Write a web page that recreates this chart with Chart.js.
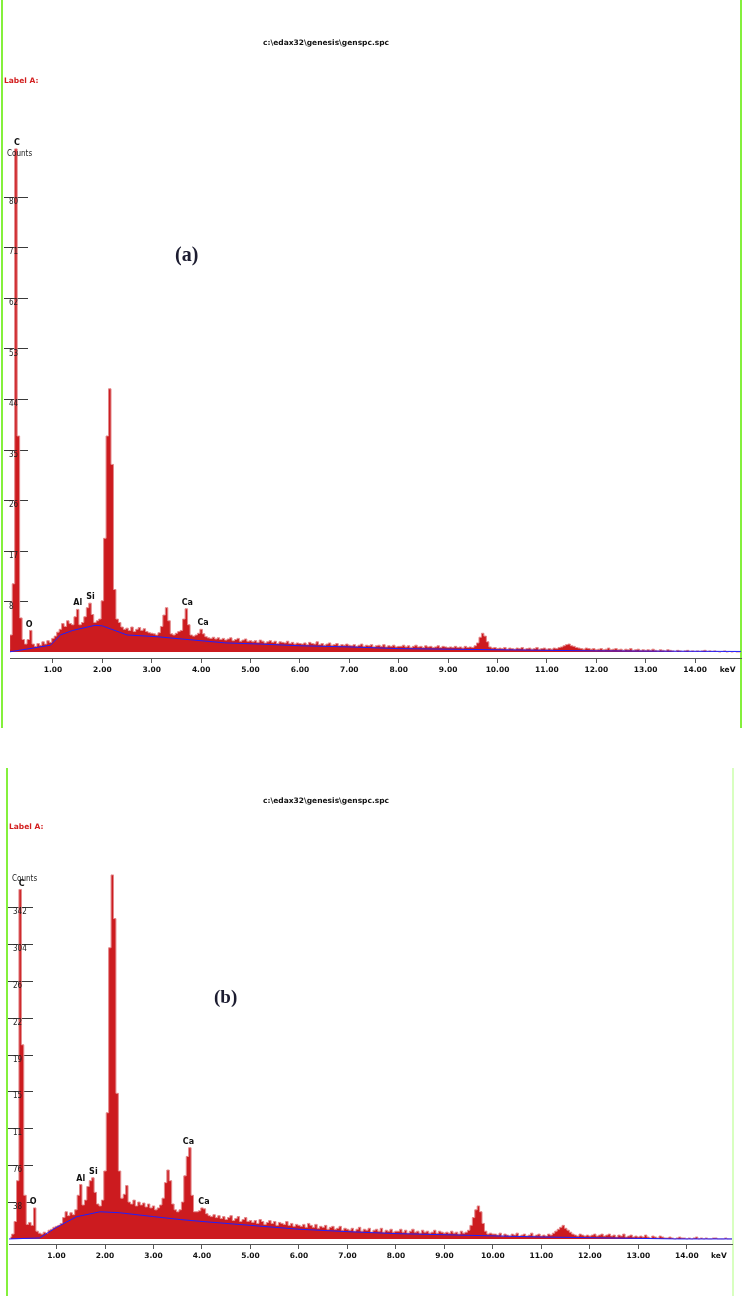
<!DOCTYPE html>
<html>
<head>
<meta charset="utf-8">
<script src="https://cdn.jsdelivr.net/npm/chart.js@4.4.1/dist/chart.umd.min.js"></script>
<style>
  body { margin: 0; background: #fff; width: 744px; height: 1296px; position: relative; overflow: hidden; }
  canvas { position: absolute; left: 0; }
  .vline { position: absolute; width: 2px; }
  .txt { position: absolute; white-space: nowrap; line-height: 1; }
  .path { font: bold 7.5px "DejaVu Sans", sans-serif; color: #111; }
  .lab { font: bold 7.5px "DejaVu Sans", sans-serif; color: #d21f1f; }
  .cnt { font: 8px "Liberation Sans Narrow", "DejaVu Sans Condensed", sans-serif; color: #222; }
  .tag { font: bold 20px "Liberation Serif", serif; color: #1c1c30; }
</style>
</head>
<body>
<div class="vline" style="left:1px;top:0;height:728px;background:#84f03c"></div>
<div class="vline" style="left:740px;top:0;height:728px;background:#84f03c"></div>
<div class="vline" style="left:6px;top:768px;height:528px;background:#84f03c"></div>
<div class="vline" style="left:732px;top:768px;height:528px;background:#d8ffc0"></div>

<canvas id="specA" width="744" height="700" style="top:0"></canvas>
<canvas id="specB" width="744" height="520" style="top:765px"></canvas>

<div class="txt path" style="left:263px;top:38px">c:\edax32\genesis\genspc.spc</div>
<div class="txt lab" style="left:4px;top:76px">Label A:</div>
<div class="txt cnt" style="left:7px;top:149px">Counts</div>
<div class="txt tag" style="left:175px;top:243px">(a)</div>

<div class="txt path" style="left:263px;top:796px">c:\edax32\genesis\genspc.spc</div>
<div class="txt lab" style="left:9px;top:822px">Label A:</div>
<div class="txt cnt" style="left:12px;top:874px">Counts</div>
<div class="txt tag" style="left:214px;top:986px;font-size:19px">(b)</div>

<script>
// channel grid of the spectra (keV)
const channelStart = 0.05;
const channelWidth = 0.05;

// spectrum (a), counts per channel, 0.05 .. 14.95 keV
const countsA = [
  0, 4, 30, 120, 885, 380, 60, 22, 14, 22, 38, 14, 10, 15, 12, 18, 14, 20, 17, 24,
  28, 35, 40, 50, 45, 55, 50, 48, 62, 75, 48, 52, 62, 78, 86, 66, 52, 55, 58, 90,
  200, 380, 463, 330, 110, 58, 52, 44, 40, 42, 38, 44, 36, 40, 43, 38, 41, 36, 34, 33,
  32, 30, 34, 45, 65, 78, 55, 32, 30, 33, 36, 38, 58, 76, 48, 30, 28, 30, 33, 40,
  32, 27, 25, 24, 26, 23, 25, 22, 24, 21, 23, 25, 20, 22, 24, 19, 21, 23, 19, 20,
  18, 20, 17, 21, 19, 16, 18, 20, 17, 19, 15, 18, 17, 16, 19, 15, 17, 14, 16, 15,
  14, 16, 13, 17, 15, 14, 18, 13, 15, 12, 14, 16, 12, 13, 15, 11, 13, 12, 14, 12,
  11, 13, 10, 12, 14, 10, 12, 11, 13, 9, 11, 12, 10, 13, 9, 11, 10, 12, 9, 10,
  10, 12, 9, 11, 8, 10, 12, 9, 10, 8, 11, 9, 10, 8, 9, 11, 8, 10, 9, 8,
  9, 8, 10, 8, 9, 7, 10, 8, 9, 8, 11, 16, 26, 33, 28, 18, 9, 7, 8, 6,
  7, 6, 8, 5, 7, 6, 5, 7, 6, 8, 5, 6, 7, 5, 6, 8, 5, 6, 7, 5,
  6, 5, 7, 6, 8, 9, 11, 13, 14, 11, 10, 8, 7, 6, 5, 7, 6, 5, 6, 4,
  5, 6, 4, 5, 7, 4, 5, 6, 4, 5, 3, 5, 4, 6, 3, 4, 5, 3, 4, 3,
  4, 3, 5, 3, 2, 4, 3, 2, 4, 3, 2, 1, 3, 2, 1, 2, 3, 1, 2, 1,
  2, 1, 2, 3, 1, 2, 1, 2, 1, 0, 1, 2, 0, 1, 0, 1, 0, 0, 0
];
// spectrum (b)
const countsB = [
  2, 5, 18, 60, 360, 200, 45, 15, 17, 14, 32, 8, 6, 5, 7, 6, 9, 10, 12, 13,
  14, 16, 22, 28, 24, 27, 25, 30, 45, 56, 35, 40, 54, 60, 63, 48, 36, 34, 40, 70,
  130, 300, 375, 330, 150, 70, 42, 46, 55, 38, 36, 40, 34, 38, 35, 37, 33, 36, 32, 34,
  30, 32, 35, 42, 58, 71, 60, 36, 30, 28, 30, 38, 65, 85, 94, 45, 28, 28, 29, 32,
  31, 26, 24, 23, 25, 22, 24, 21, 23, 20, 22, 24, 19, 21, 23, 18, 20, 22, 18, 19,
  17, 19, 16, 20, 18, 15, 17, 19, 16, 18, 14, 17, 16, 15, 18, 14, 16, 13, 15, 14,
  13, 15, 12, 16, 14, 12, 15, 11, 13, 12, 14, 10, 12, 13, 10, 11, 13, 9, 11, 10,
  9, 11, 8, 10, 12, 8, 10, 9, 11, 7, 9, 10, 8, 11, 7, 9, 8, 10, 7, 8,
  8, 10, 7, 9, 6, 8, 10, 7, 8, 6, 9, 7, 8, 6, 7, 9, 6, 8, 7, 6,
  7, 6, 8, 6, 7, 5, 8, 6, 7, 9, 14, 22, 30, 34, 28, 16, 8, 5, 6, 5,
  5, 4, 6, 3, 5, 4, 3, 5, 4, 6, 3, 4, 5, 3, 4, 6, 3, 4, 5, 3,
  4, 3, 5, 4, 6, 8, 10, 12, 14, 11, 9, 7, 5, 4, 3, 5, 4, 3, 4, 3,
  4, 5, 3, 4, 5, 3, 4, 5, 3, 4, 2, 4, 3, 5, 2, 3, 4, 2, 3, 2,
  3, 2, 4, 2, 1, 3, 2, 1, 3, 2, 1, 1, 2, 1, 0, 1, 2, 1, 1, 0,
  1, 0, 1, 2, 0, 1, 0, 1, 0, 0, 1, 1, 0, 0, 0, 1, 0, 0, 0
];

// fitted background (blue line)
const bgKeVA = [0.1, 0.6, 0.95, 1.15, 1.4, 1.85, 2.0, 2.5, 3.1, 3.85, 4.5, 5.2, 6.0, 7.0, 8.0, 10.0, 12.0, 14.93];
const bgCountsA = [0, 7, 12, 30, 38, 47, 46, 30, 27, 21, 16, 14, 11, 9, 6, 4, 2, 1];
const bgKeVB = [0.02, 0.65, 1.0, 1.42, 1.9, 2.3, 3.0, 3.55, 4.0, 5.0, 6.0, 7.0, 8.0, 11.0, 13.8, 14.93];
const bgCountsB = [0, 1, 12, 23, 28, 27, 23, 20, 18, 14, 10, 7.5, 5.5, 2, 0, 0];

// axes
const xTicks = [1, 2, 3, 4, 5, 6, 7, 8, 9, 10, 11, 12, 13, 14];
const unitTick = 14.66;
const yTicksA = [89, 178, 267, 356, 445, 534, 623, 712, 801];
const yLabelsA = ['8', '17', '26', '35', '44', '53', '62', '71', '80'];
const yTicksB = [38, 76, 114, 152, 190, 228, 266, 304, 342];
const yLabelsB = ['38', '76', '11', '15', '19', '22', '26', '304', '342'];

// peak identifications
const peakNamesA = ['C', 'O', 'Al', 'Si', 'Ca', 'Ca'];
const peakKeVA = [0.27, 0.52, 1.5, 1.76, 3.72, 4.04];
const peakNamesB = ['C', 'O', 'Al', 'Si', 'Ca', 'Ca'];
const peakKeVB = [0.28, 0.52, 1.5, 1.76, 3.72, 4.04];

const tickFont = { family: 'Liberation Sans Narrow, DejaVu Sans Condensed, sans-serif', size: 8 };

const edaxDeco = {
  id: 'edaxDeco',
  beforeDatasetsDraw(chart, args, opts) {
    const { ctx, chartArea, scales: { y } } = chart;
    ctx.save();
    ctx.strokeStyle = '#3a3a3a';
    ctx.lineWidth = 1;
    y.ticks.forEach((t) => {
      const py = Math.round(y.getPixelForValue(t.value)) + 0.5;
      ctx.beginPath();
      ctx.moveTo(chartArea.left + opts.tickFrom, py);
      ctx.lineTo(chartArea.left + opts.tickTo, py);
      ctx.stroke();
    });
    ctx.restore();
  },
  afterDatasetsDraw(chart, args, opts) {
    const { ctx, scales: { x, y } } = chart;
    const spec = chart.data.datasets[1].data;
    ctx.save();
    ctx.font = 'bold 8px "DejaVu Sans", sans-serif';
    ctx.fillStyle = '#111';
    ctx.textAlign = 'center';
    ctx.textBaseline = 'bottom';
    opts.names.forEach((name, i) => {
      const e = opts.keV[i];
      const top = Math.max(...spec.filter((p) => Math.abs(p.x - e) <= 0.06).map((p) => p.y));
      ctx.fillText(name, x.getPixelForValue(e), y.getPixelForValue(top) - 2);
    });
    ctx.restore();
  },
};

function drawSpectrum(id, s) {
  const spec = s.counts.map((c, i) => ({ x: +(channelStart + i * channelWidth).toFixed(2), y: c }));
  const bg = s.bgKeV.map((e, i) => ({ x: e, y: s.bgCounts[i] }));
  new Chart(document.getElementById(id), {
    type: 'line',
    data: {
      datasets: [
        { data: bg, borderColor: '#1f1fff', borderWidth: 1, pointRadius: 0, fill: false, tension: 0, order: 0 },
        {
          data: spec, stepped: 'middle', borderColor: '#e38a8c', borderWidth: 1,
          backgroundColor: '#cc1b1f', fill: 'origin', pointRadius: 0, order: 1,
        },
      ],
    },
    options: {
      responsive: false,
      animation: false,
      devicePixelRatio: 1,
      layout: { padding: { top: s.padTop, right: s.padRight, left: 0, bottom: 0 } },
      plugins: {
        legend: { display: false },
        tooltip: { enabled: false },
        edaxDeco: { tickFrom: s.tickFrom, tickTo: s.tickTo, names: s.peakNames, keV: s.peakKeV },
      },
      scales: {
        x: {
          type: 'linear',
          min: s.xMin,
          max: s.xMax,
          afterBuildTicks: (sc) => { sc.ticks = [...xTicks, unitTick].map((v) => ({ value: v })); },
          afterFit: (sc) => { sc.height = s.xAxisHeight; },
          ticks: {
            autoSkip: false,
            maxRotation: 0,
            padding: 3,
            color: '#111',
            font: { family: 'DejaVu Sans, sans-serif', size: 7.5, weight: 'bold' },
            callback: (v) => (v === unitTick ? 'keV' : v.toFixed(2)),
          },
          grid: {
            drawOnChartArea: false,
            tickLength: 5,
            color: (c) => (c.tick && c.tick.value === unitTick ? 'rgba(0,0,0,0)' : '#555'),
          },
          border: { color: '#555', width: 1 },
        },
        y: {
          min: s.yMin,
          max: s.yMax,
          afterBuildTicks: (sc) => { sc.ticks = s.yTicks.map((v) => ({ value: v })); },
          afterFit: (sc) => { sc.width = s.yAxisWidth; },
          ticks: {
            z: 1,
            mirror: true,
            padding: s.labelPad,
            labelOffset: 5,
            color: '#222',
            font: tickFont,
            callback: (v, i) => s.yLabels[i],
          },
          grid: { display: false },
          border: { display: false },
        },
      },
    },
    plugins: [edaxDeco],
  });
}

drawSpectrum('specA', {
  counts: countsA, bgKeV: bgKeVA, bgCounts: bgCountsA,
  yTicks: yTicksA, yLabels: yLabelsA, peakNames: peakNamesA, peakKeV: peakKeVA,
  xMin: 0.13, xMax: 14.93, yMin: -10.5, yMax: 893.6,
  padTop: 144, padRight: 3, xAxisHeight: 42, yAxisWidth: 10,
  labelPad: -1, tickFrom: -6, tickTo: 18,
});

drawSpectrum('specB', {
  counts: countsB, bgKeV: bgKeVB, bgCounts: bgCountsB,
  yTicks: yTicksB, yLabels: yLabelsB, peakNames: peakNamesB, peakKeV: peakKeVB,
  xMin: 0.02, xMax: 14.93, yMin: -5.2, yMax: 378,
  padTop: 107, padRight: 12, xAxisHeight: 41, yAxisWidth: 9,
  labelPad: 4, tickFrom: -1, tickTo: 24,
});
</script>
</body>
</html>
